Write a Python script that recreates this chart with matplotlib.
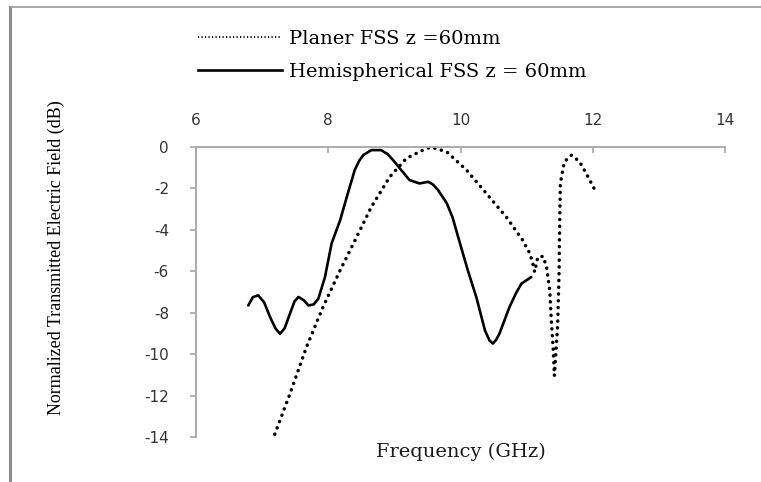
import matplotlib
matplotlib.use('Agg')
import matplotlib.pyplot as plt
from matplotlib.lines import Line2D

plt.rcParams['axes.unicode_minus'] = False

# Planer FSS z = 60mm (dotted)
planer_freq = [7.19, 7.42, 7.67, 7.92, 8.18, 8.43, 8.65, 8.93, 9.18, 9.43, 9.55,
               9.79, 10.09, 10.39, 10.69, 10.94, 11.05, 11.10, 11.12, 11.17, 11.25,
               11.30, 11.35, 11.37, 11.40, 11.42, 11.47, 11.49, 11.50, 11.51, 11.57,
               11.68, 11.80, 11.90, 12.02]
planer_db = [-13.87, -11.92, -9.66, -7.73, -5.95, -4.34, -2.9, -1.44, -0.55, -0.15, 0.0,
             -0.23, -1.11, -2.24, -3.37, -4.5, -5.15, -5.71, -6.03, -5.31, -5.28,
             -5.79, -6.92, -8.21, -9.66, -11.04, -8.53, -6.11, -3.69, -1.76, -0.71,
             -0.39, -0.71, -1.27, -2.0]

# Hemispherical FSS z = 60mm (solid)
hemi_freq = [6.79, 6.86, 6.94, 7.03, 7.12, 7.20, 7.27, 7.34, 7.42, 7.49, 7.55,
             7.63, 7.70, 7.78, 7.85, 7.95, 8.05, 8.18, 8.28, 8.40, 8.47, 8.53,
             8.65, 8.80, 8.90, 8.98, 9.10, 9.23, 9.38, 9.51, 9.58, 9.66, 9.79,
             9.88, 9.96, 10.11, 10.24, 10.37, 10.44, 10.49, 10.54, 10.59, 10.74,
             10.84, 10.92, 11.07]
hemi_db = [-7.65, -7.25, -7.16, -7.5, -8.21, -8.75, -9.02, -8.75, -8.05, -7.45, -7.24,
           -7.4, -7.65, -7.6, -7.32, -6.28, -4.66, -3.53, -2.41, -1.11, -0.65, -0.39,
           -0.15, -0.15, -0.35, -0.63, -1.1, -1.6, -1.76, -1.68, -1.8, -2.08, -2.7,
           -3.4, -4.3, -5.95, -7.26, -8.86, -9.35, -9.49, -9.3, -9.0, -7.73,
           -7.05, -6.6, -6.28]

x_ticks = [6, 8, 10, 12, 14]
y_ticks = [0, -2, -4, -6, -8, -10, -12, -14]

fig = plt.figure(figsize=(7.61, 4.82), dpi=100)
ax = fig.add_axes([0.2576, 0.0934, 0.6951, 0.6016])

ax.plot(planer_freq, planer_db, color='black', linewidth=2.5,
        linestyle=(0, (0.05, 1.9)), dash_capstyle='round')
ax.plot(hemi_freq, hemi_db, color='black', linewidth=1.9,
        solid_capstyle='round', solid_joinstyle='round')

ax.set_xlim(6, 14)
ax.set_ylim(-14, 0)
ax.set_xticks(x_ticks)
ax.set_yticks(y_ticks)
ax.set_yticklabels([str(v) for v in y_ticks])

grey = '#a6a6a6'
for s in ['right', 'bottom']:
    ax.spines[s].set_visible(False)
for s in ['left', 'top']:
    ax.spines[s].set_color(grey)
    ax.spines[s].set_linewidth(1.3)

ax.xaxis.tick_top()
ax.tick_params(axis='x', direction='in', length=4.5, width=1.2, color=grey,
               pad=14, labelsize=11, labelcolor='#333333')
ax.tick_params(axis='y', direction='out', length=4.5, width=1.2, color=grey,
               pad=15, labelsize=11, labelcolor='#333333')

ax.xaxis.set_label_position('bottom')
ax.set_xlabel('Frequency (GHz)', family='DejaVu Serif', fontsize=14, labelpad=4,
              color='#1a1a1a')
fig.text(56 / 761, 1 - 258 / 482, 'Normalized Transmitted Electric Field (dB)',
         rotation=90, ha='center', va='center', family='Liberation Serif', fontsize=13)

leg_dot = Line2D([], [], color='black', linewidth=1.4, linestyle=(0, (0.6, 1.2)))
leg_sol = Line2D([], [], color='black', linewidth=1.9)
fig.legend([leg_dot, leg_sol],
           ['Planer FSS z =60mm', 'Hemispherical FSS z = 60mm'],
           loc='upper left', bbox_to_anchor=(198 / 761, 1 - 30 / 482),
           frameon=False, prop={'family': 'DejaVu Serif', 'size': 14},
           handlelength=4.3, handletextpad=0.4, labelspacing=0.75,
           borderaxespad=0, borderpad=0)

# outer frame (left and top edges)
fig.add_artist(Line2D([10 / 761, 10 / 761], [0, 1 - 7 / 482], color='#8c8c8c',
                      linewidth=2.2, transform=fig.transFigure))
fig.add_artist(Line2D([10 / 761, 1], [1 - 7 / 482, 1 - 7 / 482], color='#9a9a9a',
                      linewidth=1.2, transform=fig.transFigure))

fig.savefig('out.png', dpi=100)
